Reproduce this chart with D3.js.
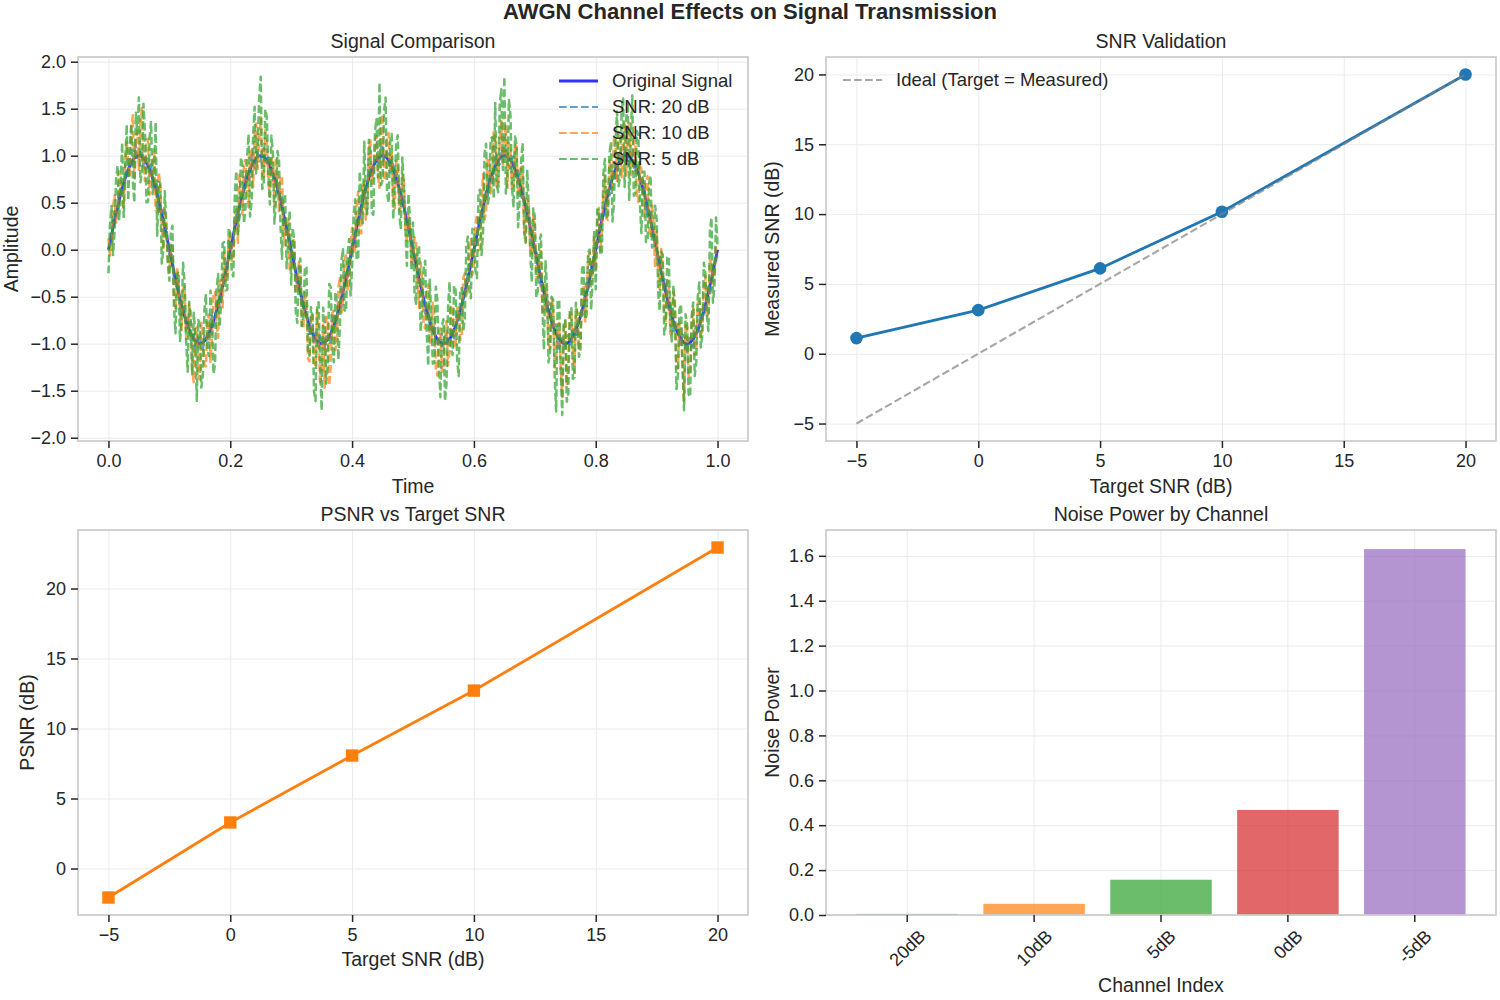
<!DOCTYPE html>
<html>
<head>
<meta charset="utf-8">
<script src="https://cdn.jsdelivr.net/npm/d3@7"></script>
<style>
	body { margin: 0; background: #fff; }
	svg { font-family: "Liberation Sans", Arial, sans-serif; }
</style>
</head>
<body>
<div id="chart"></div>
<script>
// Data
const figTitle = 'AWGN Channel Effects on Signal Transmission';

const time = [
	0, 0.0025, 0.005, 0.0075, 0.01, 0.0125, 0.015, 0.0175, 0.02, 0.0225, 0.025, 0.0275, 0.03, 0.0325, 0.035, 0.0375, 0.04, 0.0425, 0.045, 0.0475,
	0.05, 0.0525, 0.055, 0.0575, 0.06, 0.0625, 0.065, 0.0675, 0.07, 0.0725, 0.075, 0.0775, 0.08, 0.0825, 0.085, 0.0875, 0.09, 0.0925, 0.095, 0.0975,
	0.1, 0.1025, 0.105, 0.1075, 0.11, 0.1125, 0.115, 0.1175, 0.12, 0.1225, 0.125, 0.1275, 0.13, 0.1325, 0.135, 0.1375, 0.14, 0.1425, 0.145, 0.1475,
	0.15, 0.1525, 0.155, 0.1575, 0.16, 0.1625, 0.165, 0.1675, 0.17, 0.1725, 0.175, 0.1775, 0.18, 0.1825, 0.185, 0.1875, 0.19, 0.1925, 0.195, 0.1975,
	0.2, 0.2025, 0.205, 0.2075, 0.21, 0.2125, 0.215, 0.2175, 0.22, 0.2225, 0.225, 0.2275, 0.23, 0.2325, 0.235, 0.2375, 0.24, 0.2425, 0.245, 0.2475,
	0.25, 0.2525, 0.255, 0.2575, 0.26, 0.2625, 0.265, 0.2675, 0.27, 0.2725, 0.275, 0.2775, 0.28, 0.2825, 0.285, 0.2875, 0.29, 0.2925, 0.295, 0.2975,
	0.3, 0.3025, 0.305, 0.3075, 0.31, 0.3125, 0.315, 0.3175, 0.32, 0.3225, 0.325, 0.3275, 0.33, 0.3325, 0.335, 0.3375, 0.34, 0.3425, 0.345, 0.3475,
	0.35, 0.3525, 0.355, 0.3575, 0.36, 0.3625, 0.365, 0.3675, 0.37, 0.3725, 0.375, 0.3775, 0.38, 0.3825, 0.385, 0.3875, 0.39, 0.3925, 0.395, 0.3975,
	0.4, 0.4025, 0.405, 0.4075, 0.41, 0.4125, 0.415, 0.4175, 0.42, 0.4225, 0.425, 0.4275, 0.43, 0.4325, 0.435, 0.4375, 0.44, 0.4425, 0.445, 0.4475,
	0.45, 0.4525, 0.455, 0.4575, 0.46, 0.4625, 0.465, 0.4675, 0.47, 0.4725, 0.475, 0.4775, 0.48, 0.4825, 0.485, 0.4875, 0.49, 0.4925, 0.495, 0.4975,
	0.5, 0.5025, 0.505, 0.5075, 0.51, 0.5125, 0.515, 0.5175, 0.52, 0.5225, 0.525, 0.5275, 0.53, 0.5325, 0.535, 0.5375, 0.54, 0.5425, 0.545, 0.5475,
	0.55, 0.5525, 0.555, 0.5575, 0.56, 0.5625, 0.565, 0.5675, 0.57, 0.5725, 0.575, 0.5775, 0.58, 0.5825, 0.585, 0.5875, 0.59, 0.5925, 0.595, 0.5975,
	0.6, 0.6025, 0.605, 0.6075, 0.61, 0.6125, 0.615, 0.6175, 0.62, 0.6225, 0.625, 0.6275, 0.63, 0.6325, 0.635, 0.6375, 0.64, 0.6425, 0.645, 0.6475,
	0.65, 0.6525, 0.655, 0.6575, 0.66, 0.6625, 0.665, 0.6675, 0.67, 0.6725, 0.675, 0.6775, 0.68, 0.6825, 0.685, 0.6875, 0.69, 0.6925, 0.695, 0.6975,
	0.7, 0.7025, 0.705, 0.7075, 0.71, 0.7125, 0.715, 0.7175, 0.72, 0.7225, 0.725, 0.7275, 0.73, 0.7325, 0.735, 0.7375, 0.74, 0.7425, 0.745, 0.7475,
	0.75, 0.7525, 0.755, 0.7575, 0.76, 0.7625, 0.765, 0.7675, 0.77, 0.7725, 0.775, 0.7775, 0.78, 0.7825, 0.785, 0.7875, 0.79, 0.7925, 0.795, 0.7975,
	0.8, 0.8025, 0.805, 0.8075, 0.81, 0.8125, 0.815, 0.8175, 0.82, 0.8225, 0.825, 0.8275, 0.83, 0.8325, 0.835, 0.8375, 0.84, 0.8425, 0.845, 0.8475,
	0.85, 0.8525, 0.855, 0.8575, 0.86, 0.8625, 0.865, 0.8675, 0.87, 0.8725, 0.875, 0.8775, 0.88, 0.8825, 0.885, 0.8875, 0.89, 0.8925, 0.895, 0.8975,
	0.9, 0.9025, 0.905, 0.9075, 0.91, 0.9125, 0.915, 0.9175, 0.92, 0.9225, 0.925, 0.9275, 0.93, 0.9325, 0.935, 0.9375, 0.94, 0.9425, 0.945, 0.9475,
	0.95, 0.9525, 0.955, 0.9575, 0.96, 0.9625, 0.965, 0.9675, 0.97, 0.9725, 0.975, 0.9775, 0.98, 0.9825, 0.985, 0.9875, 0.99, 0.9925, 0.995, 0.9975,
	1
];

const originalSignal = [
	0, 0.078, 0.156, 0.233, 0.309, 0.383, 0.454, 0.522, 0.588, 0.649, 0.707, 0.76, 0.809, 0.853, 0.891, 0.924, 0.951, 0.972, 0.988, 0.997,
	1, 0.997, 0.988, 0.972, 0.951, 0.924, 0.891, 0.853, 0.809, 0.76, 0.707, 0.649, 0.588, 0.522, 0.454, 0.383, 0.309, 0.233, 0.156, 0.078,
	0, -0.078, -0.156, -0.233, -0.309, -0.383, -0.454, -0.522, -0.588, -0.649, -0.707, -0.76, -0.809, -0.853, -0.891, -0.924, -0.951, -0.972, -0.988, -0.997,
	-1, -0.997, -0.988, -0.972, -0.951, -0.924, -0.891, -0.853, -0.809, -0.76, -0.707, -0.649, -0.588, -0.522, -0.454, -0.383, -0.309, -0.233, -0.156, -0.078,
	0, 0.078, 0.156, 0.233, 0.309, 0.383, 0.454, 0.522, 0.588, 0.649, 0.707, 0.76, 0.809, 0.853, 0.891, 0.924, 0.951, 0.972, 0.988, 0.997,
	1, 0.997, 0.988, 0.972, 0.951, 0.924, 0.891, 0.853, 0.809, 0.76, 0.707, 0.649, 0.588, 0.522, 0.454, 0.383, 0.309, 0.233, 0.156, 0.078,
	0, -0.078, -0.156, -0.233, -0.309, -0.383, -0.454, -0.522, -0.588, -0.649, -0.707, -0.76, -0.809, -0.853, -0.891, -0.924, -0.951, -0.972, -0.988, -0.997,
	-1, -0.997, -0.988, -0.972, -0.951, -0.924, -0.891, -0.853, -0.809, -0.76, -0.707, -0.649, -0.588, -0.522, -0.454, -0.383, -0.309, -0.233, -0.156, -0.078,
	0, 0.078, 0.156, 0.233, 0.309, 0.383, 0.454, 0.522, 0.588, 0.649, 0.707, 0.76, 0.809, 0.853, 0.891, 0.924, 0.951, 0.972, 0.988, 0.997,
	1, 0.997, 0.988, 0.972, 0.951, 0.924, 0.891, 0.853, 0.809, 0.76, 0.707, 0.649, 0.588, 0.522, 0.454, 0.383, 0.309, 0.233, 0.156, 0.078,
	0, -0.078, -0.156, -0.233, -0.309, -0.383, -0.454, -0.522, -0.588, -0.649, -0.707, -0.76, -0.809, -0.853, -0.891, -0.924, -0.951, -0.972, -0.988, -0.997,
	-1, -0.997, -0.988, -0.972, -0.951, -0.924, -0.891, -0.853, -0.809, -0.76, -0.707, -0.649, -0.588, -0.522, -0.454, -0.383, -0.309, -0.233, -0.156, -0.078,
	0, 0.078, 0.156, 0.233, 0.309, 0.383, 0.454, 0.522, 0.588, 0.649, 0.707, 0.76, 0.809, 0.853, 0.891, 0.924, 0.951, 0.972, 0.988, 0.997,
	1, 0.997, 0.988, 0.972, 0.951, 0.924, 0.891, 0.853, 0.809, 0.76, 0.707, 0.649, 0.588, 0.522, 0.454, 0.383, 0.309, 0.233, 0.156, 0.078,
	0, -0.078, -0.156, -0.233, -0.309, -0.383, -0.454, -0.522, -0.588, -0.649, -0.707, -0.76, -0.809, -0.853, -0.891, -0.924, -0.951, -0.972, -0.988, -0.997,
	-1, -0.997, -0.988, -0.972, -0.951, -0.924, -0.891, -0.853, -0.809, -0.76, -0.707, -0.649, -0.588, -0.522, -0.454, -0.383, -0.309, -0.233, -0.156, -0.078,
	0, 0.078, 0.156, 0.233, 0.309, 0.383, 0.454, 0.522, 0.588, 0.649, 0.707, 0.76, 0.809, 0.853, 0.891, 0.924, 0.951, 0.972, 0.988, 0.997,
	1, 0.997, 0.988, 0.972, 0.951, 0.924, 0.891, 0.853, 0.809, 0.76, 0.707, 0.649, 0.588, 0.522, 0.454, 0.383, 0.309, 0.233, 0.156, 0.078,
	0, -0.078, -0.156, -0.233, -0.309, -0.383, -0.454, -0.522, -0.588, -0.649, -0.707, -0.76, -0.809, -0.853, -0.891, -0.924, -0.951, -0.972, -0.988, -0.997,
	-1, -0.997, -0.988, -0.972, -0.951, -0.924, -0.891, -0.853, -0.809, -0.76, -0.707, -0.649, -0.588, -0.522, -0.454, -0.383, -0.309, -0.233, -0.156, -0.078,
	0
];

// noise, added to the original signal
const noise20dB = [
	0.05, -0.04, -0.07, 0.06, 0.09, -0.02, -0.03, 0.08, 0.06, -0.05, -0.1, 0.03, 0.04, -0.07, 0.08, 0.02, -0.06, 0.09, 0.11, -0.04,
	-0.04, 0.06, 0.07, -0.08, -0.09, 0.05, 0.03, -0.06, 0.1, -0.03, -0.05, 0.07, 0.06, -0.09, -0.08, 0.04, 0.02, -0.05, 0.07, 0.03,
	-0.06, 0.04, 0.09, -0.07, -0.04, 0.08, 0.05, -0.03, -0.11, 0.06, 0.03, -0.08, 0.08, 0.02, -0.07, 0.05, 0.06, -0.09, -0.02, 0.07,
	0.09, -0.05, -0.08, 0.06, 0.04, -0.03, -0.05, 0.08, 0.1, -0.06, -0.03, 0.04, 0.07, -0.08, -0.09, 0.05, 0.05, -0.02, -0.06, 0.08,
	0.08, -0.06, -0.04, 0.07, 0.06, -0.09, -0.1, 0.03, 0.03, -0.05, 0.07, 0.06, -0.05, -0.08, 0.11, 0.02, -0.08, 0.07, 0.04, -0.04,
	-0.06, 0.05, 0.09, -0.07, -0.03, 0.08, 0.05, -0.06, -0.07, 0.04, 0.1, -0.03, -0.04, 0.09, 0.06, -0.08, -0.09, 0.03, 0.02, -0.05,
	-0.07, 0.06, 0.05, -0.04, -0.09, 0.07, 0.08, -0.05, -0.03, 0.09, 0.06, -0.07, -0.1, 0.04, 0.04, -0.06, 0.07, 0.03, -0.05, 0.08,
	0.09, -0.04, -0.06, 0.05, 0.03, -0.08, -0.08, 0.06, 0.1, -0.05, -0.02, 0.07, 0.05, -0.09, -0.07, 0.04, 0.08, -0.06, -0.04, 0.05,
	0.06, -0.07, -0.09, 0.04, 0.04, -0.06, -0.05, 0.08, 0.1, -0.03, -0.03, 0.06, 0.07, -0.08, -0.08, 0.05, 0.05, -0.04, -0.07, 0.09,
	0.09, -0.05, -0.04, 0.06, 0.02, -0.1, 0.08, 0.04, -0.07, 0.07, 0.05, -0.06, -0.1, 0.03, 0.06, -0.04, -0.03, 0.08, 0.07, -0.05,
	-0.05, 0.04, 0.08, -0.06, -0.06, 0.07, 0.03, -0.04, -0.09, 0.05, 0.1, -0.07, -0.04, 0.06, 0.06, -0.08, -0.07, 0.02, 0.05, -0.03,
	-0.02, 0.07, 0.09, -0.05, -0.08, 0.04, 0.04, -0.09, -0.05, 0.06, 0.07, -0.04, -0.1, 0.05, 0.03, -0.06, 0.06, 0.08, -0.04, -0.03,
	0.09, -0.05, -0.06, 0.07, 0.05, -0.04, -0.08, 0.03, 0.03, -0.09, 0.07, 0.05, -0.1, -0.02, 0.04, 0.08, -0.05, -0.06, 0.08, 0.04,
	-0.03, 0.06, 0.06, -0.07, -0.09, 0.05, 0.1, -0.04, -0.04, 0.08, 0.05, -0.06, -0.07, 0.03, 0.02, -0.05, 0.08, 0.07, -0.06, -0.04,
	-0.03, 0.05, 0.07, -0.06, -0.08, 0.04, 0.05, -0.07, -0.06, 0.09, 0.09, -0.03, -0.04, 0.06, 0.03, -0.08, -0.1, 0.05, 0.06, -0.02,
	-0.05, 0.07, 0.08, -0.04, -0.02, 0.06, 0.07, -0.08, -0.09, 0.03, 0.04, -0.05, -0.06, 0.09, 0.1, -0.04, -0.03, 0.06, 0.05, -0.07,
	0.07, -0.06, -0.05, 0.04, 0.09, -0.03, -0.04, 0.08, 0.06, -0.07, -0.08, 0.05, 0.03, -0.09, -0.07, 0.04, 0.1, 0.02, -0.03, 0.06,
	0.05, -0.08, -0.09, 0.06, 0.04, -0.05, -0.06, 0.07, 0.08, -0.04, -0.02, 0.09, 0.07, -0.06, -0.1, 0.03, 0.05, -0.07, -0.04, 0.08,
	-0.08, 0.05, 0.06, -0.04, -0.03, 0.07, 0.09, -0.06, -0.05, 0.08, 0.04, -0.09, -0.07, 0.03, 0.1, 0.02, -0.06, 0.07, 0.03, -0.05,
	-0.09, 0.04, 0.05, -0.07, -0.04, 0.06, 0.08, -0.03, -0.02, 0.09, 0.07, -0.06, -0.05, 0.04, 0.06, -0.08, -0.08, 0.05, 0.03, -0.04,
	-0.02
];

const noise10dB = [
	0.12, -0.14, -0.18, 0.22, 0.27, -0.1, -0.09, 0.31, 0.21, -0.17, -0.26, 0.19, 0.34, 0.05, -0.12, 0.38, 0.48, -0.2, 0.18, 0.27,
	-0.15, 0.33, 0.52, -0.11, -0.22, 0.25, 0.29, -0.27, -0.08, 0.16, 0.36, -0.23, -0.19, 0.3, 0.24, -0.13, -0.31, 0.21, 0.11, -0.18,
	-0.24, 0.12, 0.19, -0.28, -0.33, 0.2, 0.14, -0.15, -0.27, 0.24, 0.31, -0.19, -0.11, 0.27, 0.23, -0.36, -0.46, 0.13, 0.16, -0.31,
	-0.38, 0.22, 0.09, -0.25, -0.29, 0.17, 0.2, -0.34, -0.14, 0.29, 0.26, -0.12, -0.35, 0.18, 0.13, -0.23, 0.28, -0.1, -0.16, 0.21,
	0.18, -0.2, -0.27, 0.15, 0.12, -0.31, 0.34, 0.1, -0.21, 0.28, 0.25, -0.14, -0.36, 0.22, 0.17, -0.26, 0.29, 0.37, -0.13, 0.2,
	0.41, -0.17, -0.24, 0.3, 0.19, -0.22, -0.32, 0.14, 0.08, -0.29, 0.27, 0.16, -0.18, 0.24, 0.33, -0.21, -0.26, 0.12, 0.15, -0.3,
	-0.21, 0.16, 0.28, -0.23, -0.14, 0.25, 0.32, -0.3, -0.25, 0.19, 0.17, -0.4, -0.38, 0.13, 0.22, -0.27, -0.29, 0.34, 0.11, -0.44,
	-0.27, 0.2, -0.48, 0.26, 0.2, -0.52, -0.35, 0.18, 0.16, -0.31, -0.23, 0.24, 0.3, -0.15, -0.12, 0.28, 0.25, -0.2, -0.19, 0.14,
	0.23, -0.12, -0.16, 0.27, 0.31, -0.2, -0.28, 0.18, 0.14, -0.33, -0.22, 0.3, 0.37, -0.15, -0.09, 0.24, 0.26, -0.18, -0.33, 0.35,
	0.44, -0.26, -0.19, 0.21, 0.29, -0.11, 0.16, -0.3, -0.37, 0.19, 0.21, -0.24, -0.14, 0.28, 0.32, -0.17, -0.24, 0.13, 0.1, -0.21,
	-0.17, 0.21, 0.26, -0.14, -0.31, 0.25, 0.12, -0.27, -0.25, 0.18, 0.34, -0.22, -0.2, 0.29, 0.18, -0.35, -0.39, 0.1, 0.15, -0.3,
	-0.28, 0.17, 0.23, -0.26, -0.13, 0.32, 0.3, -0.18, -0.24, 0.14, 0.09, -0.31, -0.33, 0.22, 0.2, -0.12, -0.11, 0.26, 0.27, -0.19,
	-0.15, 0.18, 0.22, -0.24, -0.3, 0.13, 0.35, -0.2, -0.18, 0.3, 0.27, -0.16, -0.09, 0.4, 0.31, -0.25, -0.26, 0.21, 0.38, -0.12,
	0.19, 0.33, -0.33, 0.16, 0.14, -0.29, -0.22, 0.27, 0.29, -0.19, -0.12, 0.23, 0.25, -0.31, -0.37, 0.15, 0.18, -0.22, -0.2, 0.28,
	0.26, -0.21, -0.14, 0.18, 0.32, -0.29, -0.23, 0.15, 0.11, -0.33, -0.35, 0.24, 0.2, -0.4, -0.28, 0.12, 0.17, -0.27, -0.58, 0.2,
	0.24, -0.45, -0.19, 0.27, 0.3, -0.16, -0.42, 0.22, 0.13, -0.31, -0.26, 0.19, 0.21, -0.24, -0.15, 0.3, 0.28, -0.13, -0.09, 0.23,
	-0.22, 0.17, 0.29, -0.25, -0.13, 0.21, 0.34, -0.19, -0.27, 0.3, 0.18, -0.14, 0.4, 0.26, -0.16, 0.33, 0.25, -0.2, 0.31, 0.37,
	-0.21, 0.28, 0.36, -0.18, -0.11, 0.24, 0.27, -0.3, -0.3, 0.16, 0.15, -0.23, -0.24, 0.19, 0.33, -0.14, -0.18, 0.25, 0.12, -0.27,
	0.2, -0.16, -0.26, 0.24, 0.14, -0.3, -0.32, 0.19, 0.23, -0.25, -0.17, 0.31, 0.28, -0.41, -0.37, 0.15, 0.11, -0.28, -0.62, 0.22,
	0.19, -0.35, -0.29, 0.18, 0.34, -0.2, -0.21, 0.29, 0.26, -0.17, -0.14, 0.24, 0.31, -0.19, -0.22, 0.27, 0.16, -0.13, -0.08, 0.12,
	0.05
];

const noise5dB = [
	-0.25, 0.18, 0.31, -0.29, -0.12, 0.37, 0.44, -0.21, 0.08, 0.49, -0.36, 0.15, 0.52, -0.33, 0.18, 0.41, -0.21, -0.47, 0.47, 0.23,
	0.62, -0.28, -0.15, 0.58, 0.29, -0.42, -0.38, 0.34, 0.55, -0.17, 0.12, 0.71, -0.44, 0.2, 0.26, -0.53, -0.31, 0.39, 0.09, -0.24,
	-0.33, 0.27, 0.41, -0.36, -0.58, 0.12, 0.22, -0.45, -0.17, 0.51, 0.36, -0.19, -0.49, 0.3, 0.14, -0.4, 0.28, 0.06, -0.62, 0.25,
	0.19, -0.47, -0.35, 0.33, 0.48, -0.14, -0.24, 0.42, 0.07, -0.56, -0.51, 0.23, 0.33, -0.3, -0.12, 0.45, 0.39, -0.2, -0.27, 0.31,
	0.16, -0.32, -0.44, 0.38, 0.53, -0.23, -0.09, 0.46, 0.31, -0.37, -0.26, 0.21, 0.42, -0.5, -0.38, 0.29, 0.57, -0.16, 0.11, 0.63,
	0.84, -0.35, -0.29, 0.52, 0.46, -0.12, -0.41, 0.36, 0.23, -0.48, -0.18, 0.4, 0.37, -0.27, -0.55, 0.19, 0.28, -0.43, -0.06, 0.34,
	-0.37, 0.31, 0.25, -0.42, -0.47, 0.18, 0.36, -0.29, -0.14, 0.47, 0.52, -0.33, -0.32, 0.24, 0.19, -0.58, -0.66, 0.35, 0.43, -0.22,
	-0.71, 0.38, 0.21, -0.45, -0.28, 0.56, 0.49, -0.17, -0.39, 0.31, 0.13, -0.52, -0.22, 0.4, 0.46, -0.26, -0.35, 0.18, 0.27, -0.41,
	-0.19, 0.27, 0.38, -0.34, -0.41, 0.45, 0.15, -0.24, 0.56, -0.12, -0.33, 0.41, 0.24, -0.46, -0.52, 0.33, 0.44, -0.2, 0.79, -0.31,
	-0.26, 0.48, 0.63, -0.37, -0.45, 0.22, 0.34, -0.53, -0.11, 0.39, 0.51, -0.28, -0.37, 0.46, 0.22, -0.15, -0.48, 0.36, 0.17, -0.3,
	0.29, -0.38, -0.42, 0.24, 0.35, -0.49, -0.16, 0.32, 0.47, -0.21, -0.53, 0.44, 0.12, -0.36, -0.31, 0.53, 0.41, -0.27, -0.58, 0.19,
	0.26, -0.61, -0.44, 0.35, 0.61, -0.13, -0.23, 0.47, 0.38, -0.41, -0.64, 0.22, 0.18, -0.34, -0.29, 0.43, 0.45, -0.18, -0.36, 0.3,
	0.21, -0.29, -0.46, 0.38, 0.33, -0.44, -0.27, 0.5, 0.54, -0.18, -0.13, 0.42, 0.39, -0.31, 0.67, -0.24, -0.34, 0.58, 0.72, -0.15,
	0.84, -0.4, -0.21, 0.62, 0.48, -0.26, -0.43, 0.35, 0.31, -0.52, -0.19, 0.29, 0.55, -0.33, -0.38, 0.47, 0.14, -0.25, -0.5, 0.36,
	0.36, -0.43, -0.28, 0.31, 0.47, -0.24, -0.61, 0.4, 0.19, -0.55, -0.39, 0.26, 0.28, -0.48, -0.83, 0.37, 0.42, -0.3, -0.77, 0.21,
	0.25, -0.62, -0.54, 0.34, 0.33, -0.45, -0.47, 0.29, 0.12, -0.38, -0.35, 0.44, 0.43, -0.22, -0.24, 0.36, 0.31, -0.41, -0.15, 0.28,
	-0.42, 0.35, 0.27, -0.28, -0.36, 0.43, 0.51, -0.19, -0.22, 0.37, 0.44, -0.46, -0.31, 0.29, 0.58, -0.25, -0.17, 0.49, 0.62, -0.33,
	0.38, 0.57, -0.46, 0.22, 0.69, -0.35, -0.29, 0.41, 0.41, -0.27, -0.53, 0.18, 0.24, -0.44, -0.37, 0.32, 0.48, -0.21, -0.12, 0.39,
	0.33, -0.37, -0.49, 0.21, 0.26, -0.52, -0.35, 0.44, 0.52, -0.16, -0.27, 0.38, 0.18, -0.63, -0.44, 0.29, 0.37, -0.25, -0.72, 0.31,
	0.21, -0.54, -0.58, 0.27, 0.39, -0.42, -0.31, 0.35, 0.46, -0.28, -0.2, 0.51, 0.34, -0.19, -0.41, 0.58, 0.65, -0.33, -0.23, 0.42,
	0.04
];

const targetSnr = [-5, 0, 5, 10, 20];
const measuredSnr = [1.12, 3.12, 6.11, 10.17, 20.0];
const psnr = [-2.07, 3.29, 8.07, 12.71, 22.93];

const channels = ['20dB', '10dB', '5dB', '0dB', '-5dB'];
const noisePower = [0.005, 0.05, 0.157, 0.468, 1.63];

const ticksTime = [0, 0.2, 0.4, 0.6, 0.8, 1.0];
const ticksAmp = [-2, -1.5, -1, -0.5, 0, 0.5, 1, 1.5, 2];
const ticksSnr = [-5, 0, 5, 10, 15, 20];
const ticksPsnr = [0, 5, 10, 15, 20];
const ticksPower = [0, 0.2, 0.4, 0.6, 0.8, 1.0, 1.2, 1.4, 1.6];
// Data End

const tab = {
	blue: '#1f77b4',
	orange: '#ff7f0e',
	green: '#2ca02c',
	red: '#d62728',
	purple: '#9467bd'
};
const barColors = [tab.blue, tab.orange, tab.green, tab.red, tab.purple];
const ink = '#262626';
const gridColor = '#ebebeb';
const spineColor = '#cccccc';

const width = 1500;
const height = 1000;

const svg = d3.select('#chart').append('svg')
	.attr('width', width)
	.attr('height', height);

svg.append('text')
	.attr('x', width / 2)
	.attr('y', 19)
	.attr('text-anchor', 'middle')
	.attr('font-weight', 'bold')
	.attr('font-size', 22)
	.attr('fill', ink)
	.text(figTitle);

function makeAxis(orient, scale, ticks, fmt) {
	const a = orient(scale);
	if (ticks) a.tickValues(ticks);
	if (fmt) a.tickFormat(fmt);
	return a;
}

function styleAxis(sel) {
	sel.attr('font-family', null).attr('font-size', null);
	sel.select('.domain').remove();
	sel.selectAll('line').attr('stroke', ink).attr('stroke-width', 1.5);
	sel.selectAll('text').attr('fill', ink).attr('font-size', 18);
}

// Panel frame, grid, axes and labels
function panel(box, x, y, opt) {
	const w = box.right - box.left;
	const h = box.bottom - box.top;
	const g = svg.append('g');

	const grid = g.append('g');
	grid.append('g')
		.attr('transform', `translate(0,${box.bottom})`)
		.call(makeAxis(d3.axisBottom, x, opt.xTicks).tickSize(-h).tickFormat(''))
		.call(s => s.select('.domain').remove())
		.selectAll('line').attr('stroke', gridColor).attr('stroke-width', 1);
	grid.append('g')
		.attr('transform', `translate(${box.left},0)`)
		.call(makeAxis(d3.axisLeft, y, opt.yTicks).tickSize(-w).tickFormat(''))
		.call(s => s.select('.domain').remove())
		.selectAll('line').attr('stroke', gridColor).attr('stroke-width', 1);

	const clipId = 'clip-' + opt.id;
	g.append('clipPath').attr('id', clipId)
		.append('rect')
		.attr('x', box.left).attr('y', box.top)
		.attr('width', w).attr('height', h);
	const plot = g.append('g').attr('clip-path', `url(#${clipId})`);

	const top = g.append('g');
	top.append('rect')
		.attr('x', box.left).attr('y', box.top)
		.attr('width', w).attr('height', h)
		.attr('fill', 'none')
		.attr('stroke', spineColor)
		.attr('stroke-width', 1.75);

	const xAxis = top.append('g')
		.attr('transform', `translate(0,${box.bottom})`)
		.call(makeAxis(d3.axisBottom, x, opt.xTicks, opt.xFmt).tickSize(7).tickPadding(6))
		.call(styleAxis);
	top.append('g')
		.attr('transform', `translate(${box.left},0)`)
		.call(makeAxis(d3.axisLeft, y, opt.yTicks, opt.yFmt).tickSize(7).tickPadding(5))
		.call(styleAxis);

	// Labels
	top.append('text')
		.attr('x', (box.left + box.right) / 2)
		.attr('y', box.top - 9)
		.attr('text-anchor', 'middle')
		.attr('font-size', 19.5)
		.attr('fill', ink)
		.text(opt.title);
	top.append('text')
		.attr('x', (box.left + box.right) / 2)
		.attr('y', box.bottom + opt.xLabelY)
		.attr('text-anchor', 'middle')
		.attr('font-size', 19.5)
		.attr('fill', ink)
		.text(opt.xLabel);
	top.append('text')
		.attr('transform', `translate(${opt.yLabelX},${(box.top + box.bottom) / 2}) rotate(-90)`)
		.attr('text-anchor', 'middle')
		.attr('font-size', 19.5)
		.attr('fill', ink)
		.text(opt.yLabel);
	// Labels End

	return { plot, top, xAxis };
}

function legendEntry(g, x0, yc, item) {
	g.append('line')
		.attr('x1', x0).attr('x2', x0 + 39)
		.attr('y1', yc).attr('y2', yc)
		.attr('stroke', item.color)
		.attr('stroke-width', item.legendWidth || item.width)
		.attr('stroke-opacity', item.opacity)
		.attr('stroke-dasharray', item.dash);
	g.append('text')
		.attr('x', x0 + 53)
		.attr('y', yc)
		.attr('dy', '0.35em')
		.attr('font-size', 18.5)
		.attr('fill', ink)
		.text(item.label);
}

// Signal Comparison
{
	const box = { left: 78, right: 748, top: 57, bottom: 441 };
	const x = d3.scaleLinear().domain([-0.05, 1.05]).range([box.left, box.right]);
	const y = d3.scaleLinear().domain([-2.035, 2.05]).range([box.bottom, box.top]);
	const p = panel(box, x, y, {
		id: 'signal', xTicks: ticksTime, yTicks: ticksAmp,
		xFmt: d3.format('.1f'), yFmt: d3.format('.1f'),
		title: 'Signal Comparison', xLabel: 'Time', yLabel: 'Amplitude',
		xLabelY: 52, yLabelX: 18
	});

	const series = [
		{ label: 'Original Signal', values: originalSignal, color: 'blue', width: 2.8, opacity: 0.8, dash: null },
		{ label: 'SNR: 20 dB', values: originalSignal.map((v, i) => v + noise20dB[i]), color: tab.blue, width: 2.5, legendWidth: 2.1, opacity: 0.7, dash: '7.7,3.3' },
		{ label: 'SNR: 10 dB', values: originalSignal.map((v, i) => v + noise10dB[i]), color: tab.orange, width: 2.5, legendWidth: 2.1, opacity: 0.7, dash: '7.7,3.3' },
		{ label: 'SNR: 5 dB', values: originalSignal.map((v, i) => v + noise5dB[i]), color: tab.green, width: 2.5, legendWidth: 2.1, opacity: 0.7, dash: '7.7,3.3' }
	];

	const line = d3.line().x((d, i) => x(time[i])).y(d => y(d));
	p.plot.selectAll('.sig')
		.data(series)
		.join('path')
		.attr('class', 'sig')
		.attr('d', d => line(d.values))
		.attr('fill', 'none')
		.attr('stroke', d => d.color)
		.attr('stroke-width', d => d.width)
		.attr('stroke-opacity', d => d.opacity)
		.attr('stroke-dasharray', d => d.dash)
		.attr('stroke-linejoin', 'round');

	const lg = p.top.append('g');
	series.forEach((s, i) => legendEntry(lg, box.right - 189, box.top + 24 + i * 26, s));
}

// SNR Validation
{
	const box = { left: 826, right: 1496, top: 57, bottom: 441 };
	const x = d3.scaleLinear().domain([-6.25, 21.25]).range([box.left, box.right]);
	const y = d3.scaleLinear().domain([-6.25, 21.25]).range([box.bottom, box.top]);
	const p = panel(box, x, y, {
		id: 'snr', xTicks: ticksSnr, yTicks: ticksSnr,
		xFmt: d3.format('d'), yFmt: d3.format('d'),
		title: 'SNR Validation', xLabel: 'Target SNR (dB)', yLabel: 'Measured SNR (dB)',
		xLabelY: 52, yLabelX: 779
	});

	const line = d3.line().x((d, i) => x(targetSnr[i])).y(d => y(d));
	p.plot.append('path')
		.attr('d', line(measuredSnr))
		.attr('fill', 'none')
		.attr('stroke', tab.blue)
		.attr('stroke-width', 2.8);
	p.plot.selectAll('.pt')
		.data(measuredSnr)
		.join('circle')
		.attr('class', 'pt')
		.attr('cx', (d, i) => x(targetSnr[i]))
		.attr('cy', d => y(d))
		.attr('r', 6.3)
		.attr('fill', tab.blue);

	const ideal = { label: 'Ideal (Target = Measured)', color: 'gray', width: 2.1, opacity: 0.7, dash: '7.7,3.3' };
	p.plot.append('path')
		.attr('d', line(targetSnr))
		.attr('fill', 'none')
		.attr('stroke', ideal.color)
		.attr('stroke-width', ideal.width)
		.attr('stroke-opacity', ideal.opacity)
		.attr('stroke-dasharray', ideal.dash);

	legendEntry(p.top.append('g'), box.left + 17, box.top + 23, ideal);
}

// PSNR vs Target SNR
{
	const box = { left: 78, right: 748, top: 530, bottom: 915 };
	const x = d3.scaleLinear().domain([-6.25, 21.25]).range([box.left, box.right]);
	const y = d3.scaleLinear().domain([-3.32, 24.18]).range([box.bottom, box.top]);
	const p = panel(box, x, y, {
		id: 'psnr', xTicks: ticksSnr, yTicks: ticksPsnr,
		xFmt: d3.format('d'), yFmt: d3.format('d'),
		title: 'PSNR vs Target SNR', xLabel: 'Target SNR (dB)', yLabel: 'PSNR (dB)',
		xLabelY: 51, yLabelX: 34
	});

	const line = d3.line().x((d, i) => x(targetSnr[i])).y(d => y(d));
	p.plot.append('path')
		.attr('d', line(psnr))
		.attr('fill', 'none')
		.attr('stroke', tab.orange)
		.attr('stroke-width', 2.8);
	p.plot.selectAll('.sq')
		.data(psnr)
		.join('rect')
		.attr('class', 'sq')
		.attr('x', (d, i) => x(targetSnr[i]) - 6.2)
		.attr('y', d => y(d) - 6.2)
		.attr('width', 12.4)
		.attr('height', 12.4)
		.attr('fill', tab.orange);
}

// Noise Power by Channel
{
	const box = { left: 826, right: 1496, top: 530, bottom: 915 };
	const x = d3.scaleBand().domain(channels).range([box.left, box.right])
		.paddingInner(0.2).paddingOuter(0.24);
	const y = d3.scaleLinear().domain([0, 1.715]).range([box.bottom, box.top]);
	const p = panel(box, x, y, {
		id: 'power', xTicks: null, yTicks: ticksPower,
		xFmt: null, yFmt: d3.format('.1f'),
		title: 'Noise Power by Channel', xLabel: 'Channel Index', yLabel: 'Noise Power',
		xLabelY: 77, yLabelX: 779
	});

	p.plot.selectAll('.bar')
		.data(noisePower)
		.join('rect')
		.attr('class', 'bar')
		.attr('x', (d, i) => x(channels[i]))
		.attr('y', d => y(d))
		.attr('width', x.bandwidth())
		.attr('height', d => y(0) - y(d))
		.attr('fill', (d, i) => barColors[i])
		.attr('fill-opacity', 0.7);

	// rotated tick labels
	p.xAxis.selectAll('.tick text').each(function() {
		const t = d3.select(this);
		const tw = this.getComputedTextLength();
		const boxH = (tw + 18 * 1.1) * Math.SQRT1_2;
		t.attr('y', 0).attr('dy', '0.35em')
			.attr('text-anchor', 'middle')
			.attr('transform', `translate(0,${7 + 4 + boxH / 2}) rotate(-45)`);
	});
}
</script>
</body>
</html>
